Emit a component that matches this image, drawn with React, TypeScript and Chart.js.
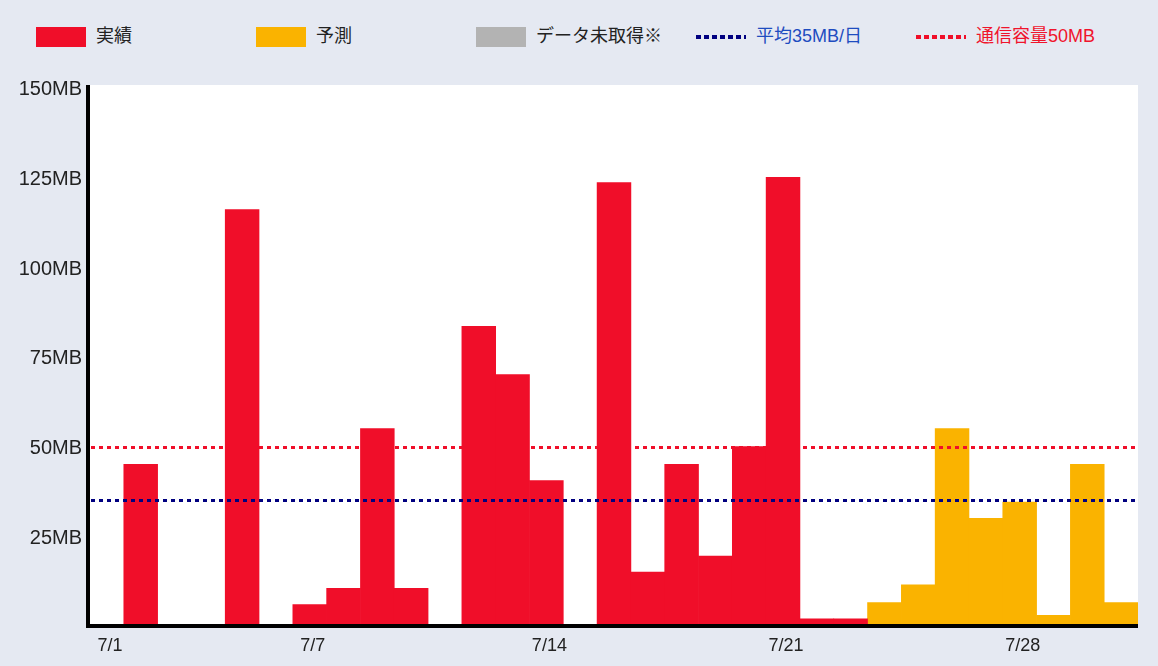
import { useEffect, useRef } from 'react';
import Chart from 'chart.js/auto';

// 日付ラベル
const days = [
  '7/1', '7/2', '7/3', '7/4', '7/5', '7/6', '7/7', '7/8', '7/9', '7/10',
  '7/11', '7/12', '7/13', '7/14', '7/15', '7/16', '7/17', '7/18', '7/19', '7/20',
  '7/21', '7/22', '7/23', '7/24', '7/25', '7/26', '7/27', '7/28', '7/29', '7/30', '7/31',
];
const shownDays = ['7/1', '7/7', '7/14', '7/21', '7/28'];

// 実績 (7/1 - 7/23), 予測 (7/24 - 7/31), MB
const actualMB = [0, 45, 0, 0, 116, 0, 6, 10.5, 55, 10.5, 0, 83.5, 70, 40.5, 0, 123.5, 15, 45, 19.5, 50, 125, 2, 2];
const forecastMB = [6.5, 11.5, 55, 30, 34.5, 3, 45, 6.5];
const missingMB: (number | null)[] = [];

const yTicks = [0, 25, 50, 75, 100, 125, 150];
const averageMB = 35;
const capacityMB = 50;

const FONT = '"Liberation Sans", "Noto Sans CJK JP", sans-serif';
const RED = '#f00e29';
const YELLOW = '#fab300';
const GRAY = '#b3b3b3';
const NAVY = '#000080';

const legendItems = [
  { label: '実績', kind: 'box', color: RED, text: '#222' },
  { label: '予測', kind: 'box', color: YELLOW, text: '#222' },
  { label: 'データ未取得※', kind: 'box', color: GRAY, text: '#222' },
  { label: `平均${averageMB}MB/日`, kind: 'line', color: NAVY, text: '#1e4cc0' },
  { label: `通信容量${capacityMB}MB`, kind: 'line', color: RED, text: '#f0142c' },
];

export default function App() {
  const canvasRef = useRef<HTMLCanvasElement>(null);

  useEffect(() => {
    document.body.style.margin = '0';
    if (!canvasRef.current) return;

    const pad = (arr: number[], before: number, after: number) =>
      [...Array(before).fill(null), ...arr, ...Array(after).fill(null)];

    const actualData = pad(actualMB, 0, days.length - actualMB.length);
    const forecastData = pad(forecastMB, actualMB.length, 0);
    const missingData = days.map((_, i) => (missingMB[i] ?? null));

    // プロット領域の白背景
    const whiteArea = {
      id: 'whiteArea',
      beforeDraw(chart: any) {
        const { ctx, chartArea } = chart;
        ctx.save();
        ctx.fillStyle = '#ffffff';
        ctx.fillRect(chartArea.left, chartArea.top - 2.5, chartArea.right - chartArea.left, chartArea.bottom - chartArea.top + 2.5);
        ctx.restore();
      },
    };

    // 平均・通信容量の点線
    const refLines = {
      id: 'refLines',
      afterDatasetsDraw(chart: any) {
        const { ctx, chartArea, scales } = chart;
        const draw = (v: number, color: string) => {
          const y = Math.round(scales.y.getPixelForValue(v)) + 0.5;
          ctx.save();
          ctx.strokeStyle = color;
          ctx.lineWidth = 3;
          ctx.setLineDash([4, 4]);
          ctx.beginPath();
          ctx.moveTo(chartArea.left + 1, y);
          ctx.lineTo(chartArea.right, y);
          ctx.stroke();
          ctx.restore();
        };
        draw(capacityMB, RED);
        draw(averageMB, NAVY);
      },
    };

    // 軸線（黒・太線）
    const axisLines = {
      id: 'axisLines',
      afterDraw(chart: any) {
        const { ctx, chartArea } = chart;
        ctx.save();
        ctx.fillStyle = '#000';
        ctx.fillRect(chartArea.left - 4, chartArea.top - 2.5, 4, chartArea.bottom - chartArea.top + 4.5);
        ctx.fillRect(chartArea.left - 4, chartArea.bottom - 2, chartArea.right - chartArea.left + 4, 4);
        ctx.restore();
      },
    };

    const chart = new Chart(canvasRef.current, {
      type: 'bar',
      data: {
        labels: days,
        datasets: [
          { label: '実績', data: actualData, backgroundColor: RED, borderWidth: 0, categoryPercentage: 1, barPercentage: 1 },
          { label: '予測', data: forecastData, backgroundColor: YELLOW, borderWidth: 0, categoryPercentage: 1, barPercentage: 1 },
          { label: 'データ未取得※', data: missingData, backgroundColor: GRAY, borderWidth: 0, categoryPercentage: 1, barPercentage: 1 },
        ],
      },
      options: {
        animation: false,
        responsive: true,
        maintainAspectRatio: false,
        layout: { padding: { top: 27.5, right: 20, left: 0, bottom: 0 } },
        plugins: { legend: { display: false }, tooltip: { enabled: false } },
        scales: {
          x: {
            stacked: true,
            grid: { display: false, drawTicks: false },
            border: { display: false },
            afterFit: (scale: any) => { scale.height = 40; },
            ticks: {
              autoSkip: false,
              maxRotation: 0,
              padding: 9,
              labelOffset: 3,
              color: '#222',
              font: { family: FONT, size: 18 },
              callback: (_v: any, i: number) => (shownDays.includes(days[i]) ? days[i] : ''),
            },
          },
          y: {
            stacked: true,
            min: 0,
            max: 150,
            grid: { display: false, drawTicks: false },
            border: { display: false },
            afterFit: (scale: any) => { scale.width = 90; },
            afterBuildTicks: (scale: any) => { scale.ticks = yTicks.map((v) => ({ value: v })); },
            ticks: {
              padding: 8,
              labelOffset: 2,
              color: '#222',
              font: { family: FONT, size: 20 },
              callback: (v: any) => (v === 0 ? '' : `${v}MB`),
            },
          },
        },
      },
      plugins: [whiteArea, refLines, axisLines],
    } as any);

    return () => chart.destroy();
  }, []);

  return (
    <div style={{ position: 'absolute', left: 0, top: 0, width: 1158, height: 666, background: '#e5e9f2', fontFamily: FONT, overflow: 'hidden' }}>
      {legendItems.map((item, i) => (
        <div key={i} style={{ position: 'absolute', left: 36 + i * 220, top: 27, height: 20, display: 'flex', alignItems: 'center', whiteSpace: 'nowrap' }}>
          {item.kind === 'box' ? (
            <div style={{ width: 50, height: 20, background: item.color }} />
          ) : (
            <div style={{ width: 50, height: 4, background: `repeating-linear-gradient(to right, ${item.color} 0 5px, transparent 5px 8px)` }} />
          )}
          <span style={{ marginLeft: 10, fontSize: 18, color: item.text, lineHeight: '20px', position: 'relative', top: -1 }}>{item.label}</span>
        </div>
      ))}
      <div style={{ position: 'absolute', left: 0, top: 60, width: 1158, height: 606 }}>
        <canvas ref={canvasRef}></canvas>
      </div>
    </div>
  );
}
